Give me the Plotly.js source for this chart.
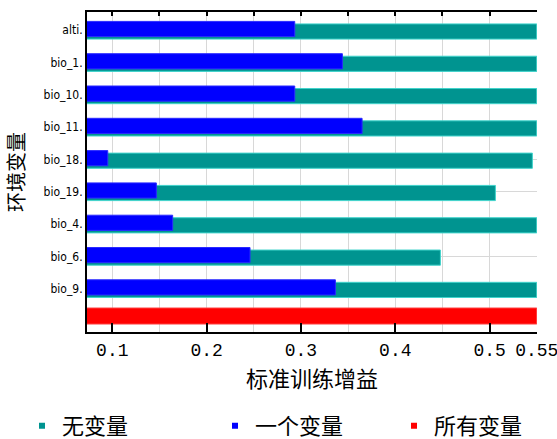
<!DOCTYPE html>
<html>
<head>
<meta charset="utf-8">
<script src="https://cdn.plot.ly/plotly-3.0.1.min.js"></script>
<style>html,body{margin:0;padding:0;background:#fff;}#chart{width:557px;height:439px;}</style>
</head>
<body>
<div id="chart"></div>
<script>
// Environmental variables (jackknife of regularized training gain)
const variables = ['alti', 'bio_1', 'bio_10', 'bio_11', 'bio_18', 'bio_19', 'bio_4', 'bio_6', 'bio_9'];
// Gain without the variable (teal)
const withoutGain = [0.55, 0.55, 0.55, 0.55, 0.5453, 0.5061, 0.55, 0.4478, 0.55];
// Gain with only the variable (blue)
const onlyGain = [0.2934, 0.3439, 0.2934, 0.3648, 0.0952, 0.1467, 0.164, 0.246, 0.3365];
// Gain with all variables (red)
const allCategory = ['all'];
const allGain = [0.55];
// Axis tick labels
const xTickVals = [0.1, 0.2, 0.3, 0.4, 0.5, 0.55];
const xTickText = ['0.1', '0.2', '0.3', '0.4', '0.5', '0.55'];
const legendNames = ['无变量', '一个变量', '所有变量'];
const colors = ['#009490', '#0000ff', '#ff0000'];

const cats = variables.concat(allCategory);
const catLabels = variables.map(v => v + '.').concat(['']);

const traces = [
  {type: 'bar', orientation: 'h', y: variables, x: withoutGain, name: legendNames[0],
   offset: -0.196, width: 0.47, showlegend: false, legendgroup: 'a',
   marker: {color: colors[0], line: {color: '#40d4cc', width: 1}}},
  {type: 'bar', orientation: 'h', y: variables, x: onlyGain, name: legendNames[1],
   offset: -0.274, width: 0.47, showlegend: false, legendgroup: 'b',
   marker: {color: colors[1], line: {color: '#2a2aff', width: 1}}},
  {type: 'bar', orientation: 'h', y: allCategory, x: allGain, name: legendNames[2],
   offset: -0.40, width: 0.495, showlegend: false, legendgroup: 'c',
   marker: {color: colors[2], line: {color: '#ff4040', width: 1}}},
  {type: 'scatter', mode: 'markers', x: [null], y: [null], xaxis: 'x2', name: legendNames[0],
   legend: 'legend', legendgroup: 'a', marker: {symbol: 'square', size: 6, color: colors[0]}},
  {type: 'scatter', mode: 'markers', x: [null], y: [null], xaxis: 'x2', name: legendNames[1],
   legend: 'legend2', legendgroup: 'b', marker: {symbol: 'square', size: 6, color: colors[1]}},
  {type: 'scatter', mode: 'markers', x: [null], y: [null], xaxis: 'x2', name: legendNames[2],
   legend: 'legend3', legendgroup: 'c', marker: {symbol: 'square', size: 6, color: colors[2]}}
];

const legendFont = {family: 'Noto Sans CJK SC', size: 22, color: '#000'};
const legendBase = {orientation: 'h', xref: 'container', yref: 'container', xanchor: 'left',
  yanchor: 'middle', y: 0.03, font: legendFont, bgcolor: 'rgba(0,0,0,0)', borderwidth: 0};

const layout = {
  width: 557, height: 439,
  margin: {l: 87, r: 20, t: 12, b: 107, pad: 0},
  paper_bgcolor: '#fff', plot_bgcolor: '#fff',
  font: {family: 'Noto Sans CJK SC', color: '#000'},
  barmode: 'overlay',
  showlegend: true,
  legend: Object.assign({}, legendBase, {x: 22 / 557}),
  legend2: Object.assign({}, legendBase, {x: 215 / 557}),
  legend3: Object.assign({}, legendBase, {x: 394 / 557}),
  xaxis: {
    range: [0.0732, 0.5502], tickmode: 'array', tickvals: xTickVals, ticktext: xTickText,
    ticks: 'inside', ticklen: 9, tickwidth: 2, tickcolor: '#000', ticklabeloverflow: 'allow',
    tickfont: {family: 'Liberation Mono', size: 18, color: '#000'},
    showline: true, linecolor: '#000', linewidth: 2,
    showgrid: true, gridcolor: '#d8d8d8', gridwidth: 1, zeroline: false,
    minor: {tickmode: 'linear', tick0: 0, dtick: 0.05, showgrid: true, gridcolor: '#d8d8d8', ticks: ''},
    title: {text: '标准训练增益', font: {family: 'Noto Sans CJK SC', size: 22, color: '#000'}, standoff: 8}
  },
  xaxis2: {
    overlaying: 'x', side: 'top', anchor: 'y', matches: 'x', range: [0.0732, 0.5502],
    tickmode: 'linear', tick0: 0, dtick: 0.05, ticks: 'inside', ticklen: 4, tickwidth: 2, tickcolor: '#000',
    showticklabels: false, showline: true, linecolor: '#000', linewidth: 2, showgrid: false, zeroline: false
  },
  yaxis: {
    type: 'category', categoryorder: 'array', categoryarray: cats,
    range: [9.342, -0.565], tickmode: 'array', tickvals: cats, ticktext: catLabels,
    ticks: '', tickfont: {family: 'DejaVu Sans Condensed, DejaVu Sans', size: 12, color: '#000'},
    showline: true, linecolor: '#000', linewidth: 2,
    showgrid: true, gridcolor: '#d8d8d8', gridwidth: 1, zeroline: false,
    title: {text: '环境变量', font: {family: 'Noto Sans CJK SC', size: 20, color: '#000'}, standoff: 14}
  }
};

Plotly.newPlot('chart', traces, layout, {displayModeBar: false, staticPlot: true});
</script>
</body>
</html>
